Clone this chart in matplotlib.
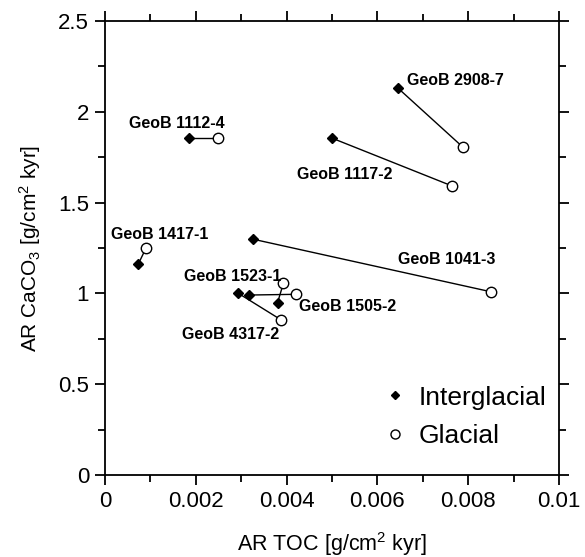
import numpy as np
import matplotlib
matplotlib.use("Agg")
import matplotlib.pyplot as plt
from matplotlib.lines import Line2D
from matplotlib.ticker import FixedLocator, MultipleLocator

# accumulation rates, interglacial vs glacial, per core
sites = ["GeoB 1112-4", "GeoB 2908-7", "GeoB 1117-2", "GeoB 1417-1",
         "GeoB 1041-3", "GeoB 1523-1", "GeoB 1505-2", "GeoB 4317-2"]
toc_inter = [0.00184, 0.00645, 0.00501, 0.00073, 0.00327, 0.00380, 0.00317, 0.00294]
caco3_inter = [1.854, 2.131, 1.854, 1.160, 1.298, 0.949, 0.991, 1.000]
toc_glac = [0.00248, 0.00788, 0.00765, 0.00090, 0.00850, 0.00393, 0.00421, 0.00388]
caco3_glac = [1.854, 1.806, 1.591, 1.248, 1.009, 1.056, 0.995, 0.854]

xticks = [0, 0.002, 0.004, 0.006, 0.008, 0.01]
xticklabels = ["0", "0.002", "0.004", "0.006", "0.008", "0.01"]
yticks = [0, 0.5, 1, 1.5, 2, 2.5]
yticklabels = ["0", "0.5", "1", "1.5", "2", "2.5"]

# where each core name is written (left edge, centre)
label_pos = {
    "GeoB 1112-4": (0.00053, 1.937),
    "GeoB 2908-7": (0.00665, 2.171),
    "GeoB 1117-2": (0.00422, 1.656),
    "GeoB 1417-1": (0.00013, 1.325),
    "GeoB 1041-3": (0.00645, 1.188),
    "GeoB 1523-1": (0.00175, 1.092),
    "GeoB 1505-2": (0.00428, 0.927),
    "GeoB 4317-2": (0.00169, 0.771),
}

plt.rcParams["font.family"] = ["Liberation Sans", "DejaVu Sans"]
plt.rcParams["mathtext.fontset"] = "custom"
plt.rcParams["mathtext.rm"] = "Liberation Sans"
plt.rcParams["mathtext.default"] = "regular"

fig = plt.figure(figsize=(5.85, 5.57), dpi=100)
ax = fig.add_axes([0.1795, 0.1472, 0.7761, 0.8151])

for i in range(len(sites)):
    ax.plot([toc_inter[i], toc_glac[i]], [caco3_inter[i], caco3_glac[i]],
            color="k", lw=1.0, zorder=2)
ax.plot(toc_inter, caco3_inter, ls="none", marker="D", ms=5.2,
        mfc="k", mec="k", zorder=3)
ax.plot(toc_glac, caco3_glac, ls="none", marker="o", ms=7.5,
        mfc="white", mec="k", mew=1.0, zorder=3)

for s in sites:
    x, y = label_pos[s]
    ax.text(x, y, s, ha="left", va="center", fontsize=11.5, fontweight="bold")

ax.set_xlim(0, 0.01)
ax.set_ylim(0, 2.5)
ax.xaxis.set_major_locator(FixedLocator(xticks))
ax.set_xticklabels(xticklabels)
ax.xaxis.set_minor_locator(MultipleLocator(0.001))
ax.yaxis.set_major_locator(FixedLocator(yticks))
ax.set_yticklabels(yticklabels)
ax.yaxis.set_minor_locator(MultipleLocator(0.25))

ax.tick_params(which="both", direction="out", top=True, right=True,
               width=1.3, labelsize=16, pad=4)
ax.tick_params(which="major", length=7.5)
ax.tick_params(which="minor", length=5)
for sp in ax.spines.values():
    sp.set_linewidth(1.3)

ax.set_xlabel("AR TOC [g/cm$^2$ kyr]", fontsize=15.5, labelpad=13)
ax.set_ylabel("AR CaCO$_3$ [g/cm$^2$ kyr]", fontsize=15, labelpad=11)

handles = [
    Line2D([], [], ls="none", marker="D", ms=4.5, mfc="k", mec="k"),
    Line2D([], [], ls="none", marker="o", ms=6.5, mfc="white", mec="k", mew=1.0),
]
ax.legend(handles, ["Interglacial", "Glacial"], loc="lower right",
          bbox_to_anchor=(1.025, 0.007), frameon=False, handlelength=0.8,
          handletextpad=0.5, labelspacing=0.55, fontsize=19)

fig.savefig("out.png", dpi=100)
